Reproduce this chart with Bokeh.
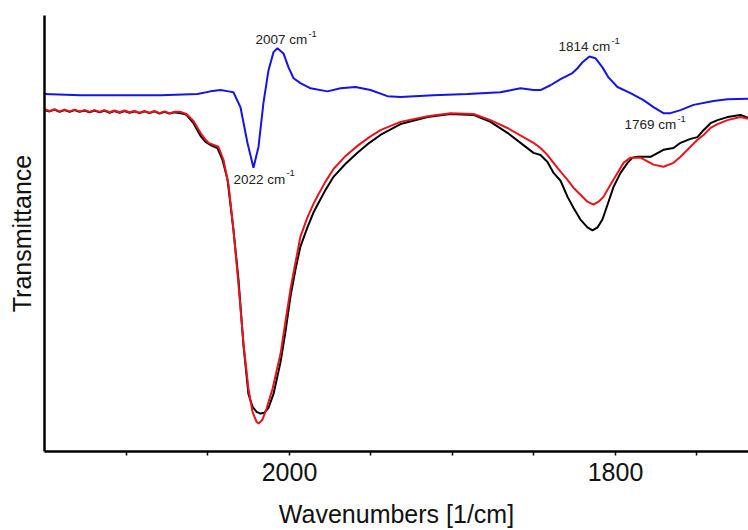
from bokeh.plotting import figure
from bokeh.models import Range1d, FixedTicker
from bokeh.core.properties import value
from bokeh.embed import file_html
from bokeh.resources import INLINE

# ---- data (wavenumber in 1/cm, transmittance in arbitrary units) ----
blue_wn = [2150.3, 2128.2, 2103.7, 2079.1, 2056.4, 2048.5, 2042.3, 2037.4, 2034.4, 2030.1,
           2025.8, 2022.1, 2019.0, 2016.0, 2012.9, 2009.8, 2007.4, 2003.7, 2000.6, 1997.5,
           1993.3, 1987.1, 1976.7, 1968.7, 1959.5, 1950.3, 1939.9, 1931.9, 1911.7, 1890.8,
           1870.6, 1858.3, 1850.3, 1846.0, 1839.9, 1833.7, 1826.4, 1823.3, 1820.2, 1816.0,
           1812.3, 1808.0, 1804.3, 1798.8, 1790.8, 1782.8, 1776.7, 1770.6, 1766.3, 1760.1,
           1752.1, 1739.9, 1731.3, 1718.4]
blue_t = [82.0, 81.7, 81.7, 81.7, 82.0, 82.6, 82.9, 82.6, 82.4, 79.0,
          70.8, 65.1, 69.9, 79.9, 87.4, 91.6, 92.5, 91.3, 88.1, 85.6,
          84.5, 83.3, 82.6, 83.3, 83.6, 82.9, 81.5, 81.3, 81.7, 82.0,
          82.4, 83.3, 82.9, 82.9, 84.0, 85.4, 86.8, 87.9, 89.3, 90.6,
          90.2, 88.1, 85.8, 83.6, 82.2, 80.6, 79.0, 77.6, 77.6, 78.3,
          79.5, 80.4, 80.8, 80.9]

black_wn = [2150.3, 2147.2, 2144.1, 2141.1, 2138.0, 2134.9, 2131.9, 2128.8, 2125.7, 2122.7,
            2119.6, 2116.5, 2113.5, 2110.4, 2107.4, 2104.3, 2101.2, 2098.2, 2095.1, 2092.0,
            2089.0, 2085.9, 2082.8, 2079.8, 2076.7, 2073.6, 2070.6, 2066.9, 2063.2, 2058.9,
            2054.6, 2051.5, 2048.5, 2044.2, 2041.1, 2038.0, 2036.2, 2034.4, 2031.3, 2028.2,
            2025.2, 2022.7, 2020.2, 2017.8, 2015.3, 2012.9, 2009.8, 2005.5, 2002.5, 1999.4,
            1996.3, 1993.3, 1989.0, 1985.3, 1982.8, 1977.9, 1973.0, 1965.6, 1958.3, 1951.0,
            1944.2, 1931.9, 1915.3, 1901.2, 1887.1, 1876.7, 1866.3, 1850.3, 1846.0, 1841.7,
            1838.0, 1833.7, 1829.4, 1825.8, 1821.5, 1817.2, 1814.1, 1811.0, 1808.0, 1804.9,
            1801.2, 1796.9, 1792.6, 1789.6, 1786.5, 1778.5, 1770.6, 1764.4, 1760.1, 1754.0,
            1749.7, 1746.0, 1741.7, 1737.4, 1731.3, 1723.3, 1718.4]
black_t = [78.3, 78.0, 78.4, 77.9, 78.3, 77.9, 78.3, 77.9, 78.2, 77.8,
           78.2, 77.8, 78.2, 77.7, 78.1, 77.7, 78.1, 77.7, 78.0, 77.6,
           78.0, 77.6, 78.0, 77.5, 77.9, 77.5, 77.8, 77.6, 77.2, 75.3,
           72.4, 71.0, 70.3, 69.6, 66.9, 62.3, 56.6, 50.9, 39.5, 24.2,
           13.2, 10.3, 9.1, 8.7, 8.9, 10.0, 13.2, 20.5, 27.4, 35.6,
           41.8, 47.0, 51.4, 54.8, 56.6, 60.0, 63.0, 66.0, 68.5, 70.8,
           72.6, 75.1, 76.7, 77.4, 77.2, 75.6, 73.1, 68.5, 68.0, 66.4,
           63.9, 62.1, 58.4, 55.9, 53.2, 51.4, 50.7, 51.4, 53.2, 56.6,
           60.7, 63.9, 66.2, 67.4, 67.6, 67.6, 69.2, 69.6, 70.8, 71.7,
           72.1, 73.7, 75.3, 76.0, 76.7, 77.2, 76.5]

red_wn = [2150.3, 2147.2, 2144.1, 2141.1, 2138.0, 2134.9, 2131.9, 2128.8, 2125.7, 2122.7,
          2119.6, 2116.5, 2113.5, 2110.4, 2107.4, 2104.3, 2101.2, 2098.2, 2095.1, 2092.0,
          2089.0, 2085.9, 2082.8, 2079.8, 2076.7, 2073.6, 2070.6, 2066.9, 2063.2, 2058.9,
          2054.6, 2051.5, 2049.7, 2043.6, 2040.5, 2037.4, 2034.4, 2031.3, 2028.2, 2025.2,
          2022.7, 2020.2, 2019.0, 2016.6, 2014.1, 2010.4, 2005.5, 2002.5, 1999.4, 1996.3,
          1993.3, 1989.0, 1985.3, 1982.8, 1977.9, 1973.0, 1965.6, 1958.3, 1951.0, 1944.2,
          1931.9, 1915.3, 1901.2, 1887.1, 1876.7, 1866.3, 1850.3, 1846.0, 1841.7, 1838.0,
          1833.7, 1829.4, 1825.8, 1821.5, 1817.2, 1813.5, 1810.4, 1807.4, 1803.1, 1798.8,
          1795.1, 1790.8, 1784.7, 1776.7, 1770.6, 1764.4, 1760.1, 1749.7, 1746.0, 1741.7,
          1737.4, 1731.3, 1723.3, 1718.4]
red_t = [78.5, 78.1, 78.5, 78.0, 78.4, 78.0, 78.4, 78.0, 78.3, 77.9,
         78.3, 77.9, 78.3, 77.8, 78.2, 77.8, 78.2, 77.8, 78.1, 77.7,
         78.1, 77.7, 78.1, 77.6, 78.0, 77.6, 77.9, 77.9, 77.4, 75.8,
         73.1, 71.5, 70.8, 69.9, 66.9, 61.2, 50.9, 38.4, 24.7, 14.4,
         9.1, 6.8, 6.4, 7.3, 9.8, 14.4, 22.4, 29.7, 37.2, 43.4,
         49.3, 53.7, 56.8, 58.6, 61.9, 64.8, 67.8, 70.1, 72.1, 73.7,
         75.6, 76.9, 77.6, 77.4, 76.0, 74.2, 70.8, 69.6, 68.0, 66.2,
         64.2, 62.3, 60.5, 58.9, 57.3, 56.6, 57.3, 58.4, 61.2, 63.9,
         66.2, 67.4, 67.4, 65.8, 65.3, 66.2, 67.6, 71.5, 72.6, 74.2,
         75.1, 76.0, 76.7, 76.3]

peak_labels = ["2007 cm", "2022 cm", "1814 cm", "1769 cm"]
peak_sup = ["-1", "-1", "-1", "-1"]
label_wn = [2020.9, 2034.4, 1835.0, 1794.5]
label_t = [94.4, 62.4, 92.8, 75.0]

tick_values = [2100, 2050, 2000, 1950, 1900, 1850, 1800, 1750]
tick_labels = {2000: "2000", 1800: "1800"}

FONT = "Liberation Sans"

p = figure(width=748, height=530, output_backend="svg", toolbar_location=None,
           x_range=Range1d(2150.3, 1718.4), y_range=Range1d(0, 100),
           min_border_left=44, min_border_right=0, min_border_top=15, min_border_bottom=77)
p.outline_line_color = None
p.grid.visible = False
p.background_fill_color = "white"
p.border_fill_color = "white"

p.line(black_wn, black_t, line_color="#000000", line_width=2)
p.line(red_wn, red_t, line_color="#e8141c", line_width=2)
p.line(blue_wn, blue_t, line_color="#1414e6", line_width=2)

p.text(label_wn, label_t, text=peak_labels, text_font=value(FONT), text_font_size="13.5px",
       text_color="#222222", text_baseline="alphabetic", text_align="left")
p.text(label_wn, label_t, text=peak_sup, text_font=value(FONT), text_font_size="9.5px",
       text_color="#222222", text_baseline="alphabetic", text_align="left",
       x_offset=53, y_offset=-6)

xa = p.xaxis[0]
xa.ticker = FixedTicker(ticks=tick_values)
xa.major_label_overrides = {t: tick_labels.get(t, "") for t in tick_values}
xa.minor_tick_line_color = None
xa.major_tick_in = 0
xa.major_tick_out = 4
xa.major_tick_line_width = 1.5
xa.axis_line_width = 2.5
xa.major_label_text_font = FONT
xa.major_label_text_font_size = "25px"
xa.major_label_text_color = "#111111"
xa.major_label_standoff = 7
xa.axis_label = "Wavenumbers [1/cm]"
xa.axis_label_text_font = FONT
xa.axis_label_text_font_size = "25px"
xa.axis_label_text_font_style = "normal"
xa.axis_label_text_color = "#111111"
xa.axis_label_standoff = 16

ya = p.yaxis[0]
ya.ticker = FixedTicker(ticks=[])
ya.minor_tick_line_color = None
ya.major_tick_line_color = None
ya.major_label_text_font_size = "0px"
ya.axis_line_width = 2.5
ya.axis_label = "Transmittance"
ya.axis_label_text_font = FONT
ya.axis_label_text_font_size = "25px"
ya.axis_label_text_font_style = "normal"
ya.axis_label_text_color = "#111111"
ya.axis_label_standoff = 9

open("out.html", "w").write(file_html(p, INLINE))
